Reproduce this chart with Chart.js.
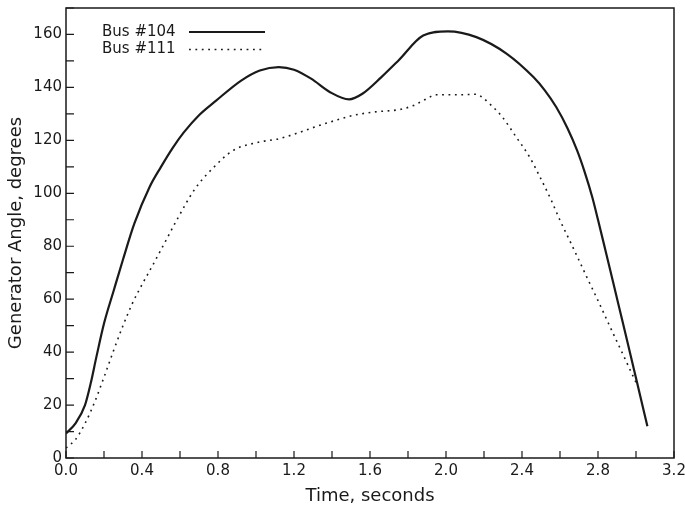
<!DOCTYPE html>
<html>
<head>
<meta charset="utf-8">
<script src="https://cdn.jsdelivr.net/npm/chart.js@4.4.1/dist/chart.umd.min.js"></script>
<style>
  html, body { margin: 0; padding: 0; background: #fff; }
  #wrap { width: 685px; height: 511px; }
</style>
</head>
<body>
<div id="wrap"><canvas id="chart"></canvas></div>
<script>
// Bus #104 (solid line) - time in seconds, angle in degrees
const time104 = [0.00, 0.05, 0.10, 0.13, 0.16, 0.20, 0.25, 0.30, 0.36, 0.44, 0.50, 0.56, 0.62, 0.70, 0.79, 0.92, 1.02, 1.12, 1.20, 1.29, 1.39, 1.49, 1.56, 1.66, 1.75, 1.88, 2.01, 2.16, 2.32, 2.46, 2.52, 2.58, 2.64, 2.69, 2.73, 2.77, 2.80, 2.84, 2.88, 2.92, 2.96, 3.00, 3.06];
const angle104 = [9.3, 13.1, 20, 28.2, 38.2, 50.8, 63, 75, 88.6, 102.4, 110, 117, 123, 129.5, 135, 142.5, 146.4, 147.7, 146.7, 143.3, 138.2, 135.5, 137.6, 143.9, 150.2, 159.6, 161.2, 159, 152.7, 143.9, 138.9, 132.6, 124.5, 116.2, 108, 98.5, 90, 78.2, 66.3, 54.3, 42.3, 30.2, 12];

// Bus #111 (dotted line)
const time111 = [0.00, 0.05, 0.10, 0.15, 0.20, 0.25, 0.30, 0.35, 0.40, 0.45, 0.51, 0.58, 0.68, 0.78, 0.88, 1.02, 1.12, 1.22, 1.32, 1.43, 1.51, 1.62, 1.76, 1.83, 1.89, 1.95, 2.06, 2.16, 2.19, 2.23, 2.29, 2.37, 2.44, 2.49, 2.55, 2.60, 2.65, 2.70, 2.74, 2.79, 2.83, 2.88, 2.92, 2.96, 3.01];
const angle111 = [3.8, 7, 13, 21, 30.5, 40.5, 50, 58.5, 65.5, 72, 80, 89.5, 101.8, 110, 116.2, 119.4, 120.6, 122.8, 125.3, 127.8, 129.4, 130.7, 131.7, 133.2, 135.4, 137.2, 137.2, 137.4, 136.3, 133.8, 129.4, 121.2, 113.7, 106.8, 98, 89.8, 82.3, 74.7, 68.5, 61, 54.8, 47, 40.9, 34.7, 27];

const seriesLabels = ['Bus #104', 'Bus #111'];

const ink = '#1a1a1a';
const tickFont = { family: 'DejaVu Sans', size: 15 };
const titleFont = { family: 'DejaVu Sans', size: 18 };

const toPoints = (xs, ys) => xs.map((x, i) => ({ x: x, y: ys[i] }));

// box round the plot, tick marks pointing inwards
const frameAndTicks = {
    id: 'frameAndTicks',
    afterDraw(chart) {
        const { ctx, chartArea: a, scales } = chart;
        ctx.save();
        ctx.strokeStyle = ink;
        ctx.lineWidth = 1.2;
        ctx.beginPath();
        scales.x.ticks.forEach((t, i) => {
            const px = scales.x.getPixelForTick(i);
            ctx.moveTo(px, a.bottom); ctx.lineTo(px, a.bottom - 7);
        });
        scales.y.ticks.forEach((t, i) => {
            const py = scales.y.getPixelForTick(i);
            ctx.moveTo(a.left, py); ctx.lineTo(a.left + 8, py);
        });
        ctx.stroke();
        ctx.lineWidth = 1.5;
        ctx.strokeRect(a.left, a.top, a.right - a.left, a.bottom - a.top);
        ctx.restore();
    }
};

// legend inside the plot: label first, line sample after it
const inlineLegend = {
    id: 'inlineLegend',
    afterDraw(chart) {
        const { ctx, chartArea: a } = chart;
        ctx.save();
        ctx.font = '15px "DejaVu Sans"';
        ctx.textBaseline = 'middle';
        chart.data.datasets.forEach((ds, i) => {
            const y = a.top + 24 + i * 17.5;
            ctx.fillStyle = ink;
            ctx.fillText(ds.label, a.left + 36, y);
            ctx.strokeStyle = ds.borderColor;
            ctx.lineWidth = ds.borderWidth;
            ctx.setLineDash(ds.borderDash || []);
            ctx.beginPath();
            ctx.moveTo(a.left + 123, y); ctx.lineTo(a.left + 199, y);
            ctx.stroke();
        });
        ctx.restore();
    }
};

new Chart(document.getElementById('chart'), {
    type: 'line',
    data: {
        datasets: [
            { label: seriesLabels[0], data: toPoints(time104, angle104), borderColor: ink, borderWidth: 2.2, pointRadius: 0, cubicInterpolationMode: 'monotone', fill: false },
            { label: seriesLabels[1], data: toPoints(time111, angle111), borderColor: ink, borderWidth: 1.6, borderDash: [1.8, 4.6], pointRadius: 0, cubicInterpolationMode: 'monotone', fill: false }
        ]
    },
    options: {
        responsive: true,
        maintainAspectRatio: false,
        animation: false,
        layout: { padding: { top: 8, right: 11, left: 0, bottom: 0 } },
        plugins: { legend: { display: false }, tooltip: { enabled: false } },
        scales: {
            x: {
                type: 'linear', min: 0, max: 3.2,
                grid: { drawOnChartArea: false, drawTicks: false },
                border: { display: false },
                ticks: {
                    stepSize: 0.2, autoSkip: false, maxRotation: 0, padding: 4,
                    color: ink, font: tickFont,
                    callback: v => (Math.round(v * 10) % 4 === 0 ? v.toFixed(1) : '')
                },
                title: { display: true, text: 'Time, seconds', color: ink, font: titleFont, padding: { top: 0, bottom: 4 } },
                afterFit: s => { s.height = 53; s.paddingLeft = 0; s.paddingRight = 0; }
            },
            y: {
                min: 0, max: 170,
                grid: { drawOnChartArea: false, drawTicks: false },
                border: { display: false },
                ticks: {
                    stepSize: 10, autoSkip: false, padding: 4,
                    color: ink, font: tickFont,
                    callback: v => (v % 20 === 0 ? String(v) : '')
                },
                title: { display: true, text: 'Generator Angle, degrees', color: ink, font: titleFont, padding: { top: 6, bottom: 4 } },
                afterFit: s => { s.width = 66; s.paddingTop = 0; s.paddingBottom = 0; }
            }
        }
    },
    plugins: [frameAndTicks, inlineLegend]
});
</script>
</body>
</html>
